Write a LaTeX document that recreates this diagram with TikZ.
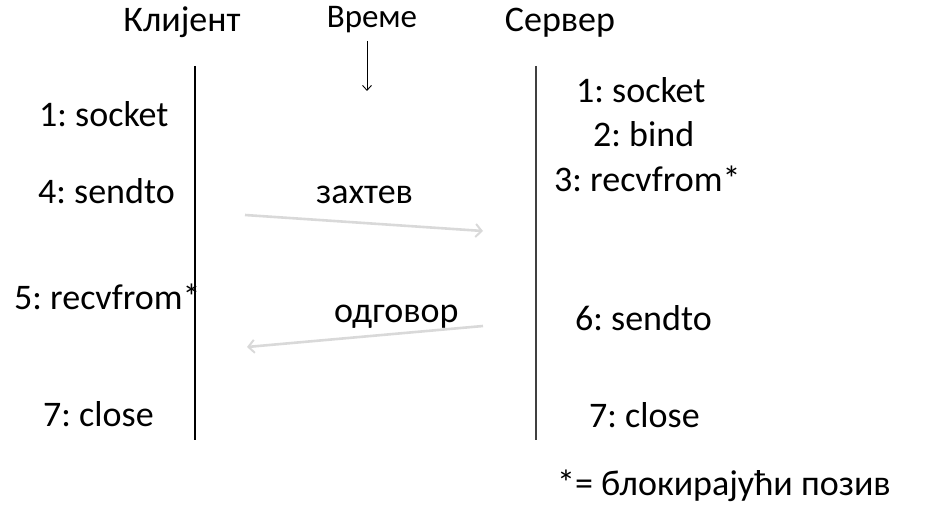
\documentclass[tikz,border=0pt]{standalone}
\usepackage{fontspec}
\setmainfont{Carlito}
\frenchspacing
\usetikzlibrary{arrows.meta}
\definecolor{msg}{RGB}{217,217,217}
\definecolor{srvline}{RGB}{64,64,64}
\tikzset{
  lbl/.style={inner sep=0pt, anchor=base west, font=\fontsize{36}{43}\selectfont},
  lblc/.style={inner sep=0pt, anchor=base, font=\fontsize{36}{43}\selectfont},
  msgarrow/.style={draw=msg, line width=2.6pt, -{Straight Barb[length=6pt,width=13pt,line width=2pt]}},
  lifeline/.style={line width=1.4pt}
}
\begin{document}
\begin{tikzpicture}[x=1pt,y=-1pt]
\useasboundingbox (0,0) rectangle (927,516);
% headers
\node[lblc] (kl) at (182,32) {Клијент};
\node[lblc, font=\fontsize{33}{40}\selectfont] (vr) at (372,28) {Време};
\node[lblc] (sv) at (560,32) {Сервер};
% time arrow
\coordinate (t1) at (367,41);
\coordinate (t2) at (367,91);
\draw[line width=0.9pt, -{Straight Barb[length=5pt,width=9pt]}] (t1) -- (t2);
% lifelines
\coordinate (c1) at (195,66);
\coordinate (c2) at (195,440);
\coordinate (s1) at (536,66);
\coordinate (s2) at (536,440);
\draw[lifeline] (c1) -- (c2);
\draw[lifeline, draw=srvline] (s1) -- (s2);
% client labels
\node[lbl] (c_sock) at (39,127) {1: socket};
\node[lbl] (c_send) at (38,204) {4: sendto};
\node[lbl] (c_recv) at (14,309) {5: recvfrom*};
\node[lbl] (c_close) at (43,426) {7: close};
% server labels
\node[lbl] (s_sock) at (576,103) {1: socket};
\node[lbl] (s_bind) at (593,147) {2: bind};
\node[lbl] (s_recv) at (554,192) {3: recvfrom*};
\node[lbl] (s_send) at (575,330) {6: sendto};
\node[lbl] (s_close) at (589,427) {7: close};
% messages
\node[lbl] (req) at (316,204) {захтев};
\node[lbl] (resp) at (334,322) {одговор};
\coordinate (r1) at (245,215);
\coordinate (r2) at (483,231);
\coordinate (p1) at (483,326);
\coordinate (p2) at (247,347);
\draw[msgarrow] (r1) -- (r2);
\draw[msgarrow] (p1) -- (p2);
% legend
\node[lbl] (leg) at (557,495) {*= блокирајући позив};
\end{tikzpicture}
\end{document}
